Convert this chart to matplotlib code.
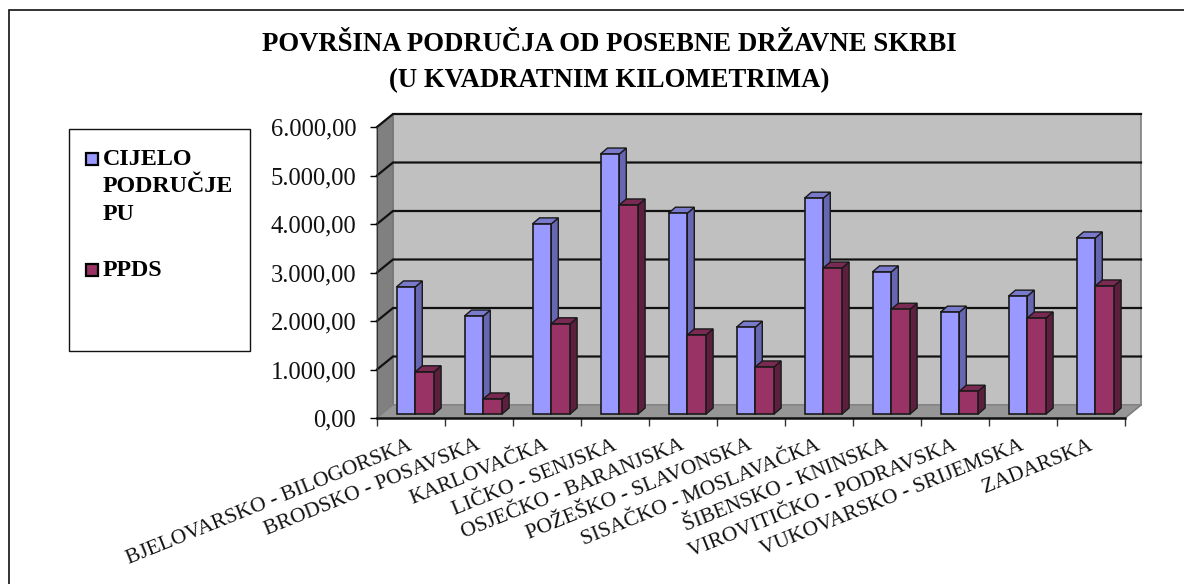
import numpy as np
import matplotlib
matplotlib.use("Agg")
import matplotlib.pyplot as plt
from matplotlib.lines import Line2D
from matplotlib.patches import Polygon, Rectangle

plt.rcParams["font.family"] = ["Liberation Serif", "DejaVu Serif"]

categories = [
    "BJELOVARSKO - BILOGORSKA", "BRODSKO - POSAVSKA", "KARLOVAČKA",
    "LIČKO - SENJSKA", "OSJEČKO - BARANJSKA", "POŽEŠKO - SLAVONSKA",
    "SISAČKO - MOSLAVAČKA", "ŠIBENSKO - KNINSKA", "VIROVITIČKO - PODRAVSKA",
    "VUKOVARSKO - SRIJEMSKA", "ZADARSKA",
]
cijelo = [2620, 2020, 3920, 5360, 4140, 1790, 4450, 2930, 2100, 2430, 3630]
ppds = [870, 310, 1860, 4310, 1630, 970, 3010, 2160, 470, 1980, 2640]
yticks = [0, 1000, 2000, 3000, 4000, 5000, 6000]
ytick_labels = ["0,00", "1.000,00", "2.000,00", "3.000,00", "4.000,00", "5.000,00", "6.000,00"]
title = "POVRŠINA PODRUČJA OD POSEBNE DRŽAVNE SKRBI\n(U KVADRATNIM KILOMETRIMA)"

W, H = 1184, 584
fig = plt.figure(figsize=(W / 100, H / 100), dpi=100)

# front plane of the 3d box, in pixels
left, right, top, bottom = 377, 1125, 127, 418
ax = fig.add_axes([left / W, 1 - bottom / H, (right - left) / W, (bottom - top) / H])
ax.set_xlim(0, len(categories))
ax.set_ylim(0, 6000)
ax.patch.set_alpha(0)

# pixels to data units
px = len(categories) / (right - left)
py = 6000 / (bottom - top)
depth_x, depth_y = 16 * px, 13 * py
bar_dx, bar_dy = 7 * px, 6 * py
base = 4 * py
bar_w = 18.8 * px
bar_x0 = 19.5 * px

dark = "#1a1a1a"


def poly(pts, fc, z, lw=1.0):
    ax.add_patch(Polygon(pts, closed=True, fc=fc, ec=dark, lw=lw, zorder=z, clip_on=False))


# back wall, side wall, floor
xmax = len(categories)
ax.add_patch(Rectangle((depth_x, depth_y), xmax, 6000, fc="#c0c0c0", ec="#808080", lw=1.2,
                       zorder=1, clip_on=False))
ax.add_patch(Polygon([(0, 0), (depth_x, depth_y), (depth_x, 6000 + depth_y), (0, 6000)],
                     fc="#808080", ec="#707070", lw=0.8, zorder=1, clip_on=False))
ax.add_patch(Polygon([(0, 0), (xmax, 0), (xmax + depth_x, depth_y), (depth_x, depth_y)],
                     fc="#969696", ec="#808080", lw=0.8, zorder=1, clip_on=False))

# gridlines run over the side wall and the back wall
for v in yticks[1:]:
    ax.plot([0, depth_x, xmax + depth_x], [v, v + depth_y, v + depth_y], color="#111111",
            lw=1.6, zorder=2, clip_on=False, solid_joinstyle="miter")
ax.plot([xmax, xmax + depth_x], [0, depth_y], color="#808080", lw=1.2, zorder=2, clip_on=False)

series = [
    (cijelo, "#9999ff", "#6666b3", "#7a7acc", 0),
    (ppds, "#993366", "#5c1f3d", "#7a2952", 1),
]
for i in range(len(categories)):
    for values, face, side, top_c, n in series:
        x0 = i + bar_x0 + n * bar_w
        v = values[i]
        z = 3 + n
        poly([(x0 + bar_w, base), (x0 + bar_w + bar_dx, base + bar_dy),
              (x0 + bar_w + bar_dx, v + base + bar_dy), (x0 + bar_w, v + base)], side, z)
        poly([(x0, v + base), (x0 + bar_w, v + base), (x0 + bar_w + bar_dx, v + base + bar_dy),
              (x0 + bar_dx, v + base + bar_dy)], top_c, z)
        ax.bar(x0, v, width=bar_w, bottom=base, align="edge", color=face, edgecolor=dark,
               linewidth=1.2, zorder=z, clip_on=False)

# axes
for s in ["top", "right"]:
    ax.spines[s].set_visible(False)
ax.spines["left"].set_color("#333333")
ax.spines["bottom"].set_color("#111111")
ax.spines["bottom"].set_linewidth(1.8)
ax.spines["bottom"].set_zorder(6)
ax.set_yticks(yticks)
ax.set_yticklabels(ytick_labels, fontsize=17.7, color="#111111")
ax.tick_params(axis="y", length=5, width=1.0, pad=10)
ax.set_xticks(np.arange(len(categories) + 1))
ax.set_xticklabels([])
ax.tick_params(axis="x", length=6, width=1.0, color="#333333")

# slanted category labels end just under the middle of their slot
for i, name in enumerate(categories):
    cx = left + (i + 0.5) * (right - left) / len(categories)
    fig.text((cx + 2) / W, 1 - 449 / H, name, rotation=22, rotation_mode="anchor",
             ha="right", va="baseline", fontsize=15.5, color="#111111")

fig.text(609.5 / W, 1 - 62.5 / H, title, ha="center", va="center", fontsize=19.3, fontweight="bold",
         linespacing=1.55)

# outer frame only shows on the top and left, legend box
fig.add_artist(Line2D([9 / W, 9 / W, 1], [0, 1 - 10 / H, 1 - 10 / H], transform=fig.transFigure,
                      color="#111111", lw=1.2, solid_joinstyle="miter"))
fig.add_artist(Rectangle((68.5 / W, 1 - 351 / H), 181 / W, 222 / H, transform=fig.transFigure,
                         fc="white", ec="#111111", lw=1.0))
for y_px, color in [(159, "#9999ff"), (269.5, "#993366")]:
    fig.add_artist(Rectangle((85.5 / W, 1 - (y_px + 6) / H), 12 / W, 12 / H, transform=fig.transFigure,
                             fc=color, ec="black", lw=1.6))
fig.text(103 / W, 1 - 187 / H, "CIJELO\nPODRUČJE\nPU", fontsize=17.3, fontweight="bold",
         ha="left", va="center", linespacing=1.42)
fig.text(103 / W, 1 - 271 / H, "PPDS", fontsize=17.3, fontweight="bold", ha="left", va="center")

fig.savefig("out.png", dpi=100)
